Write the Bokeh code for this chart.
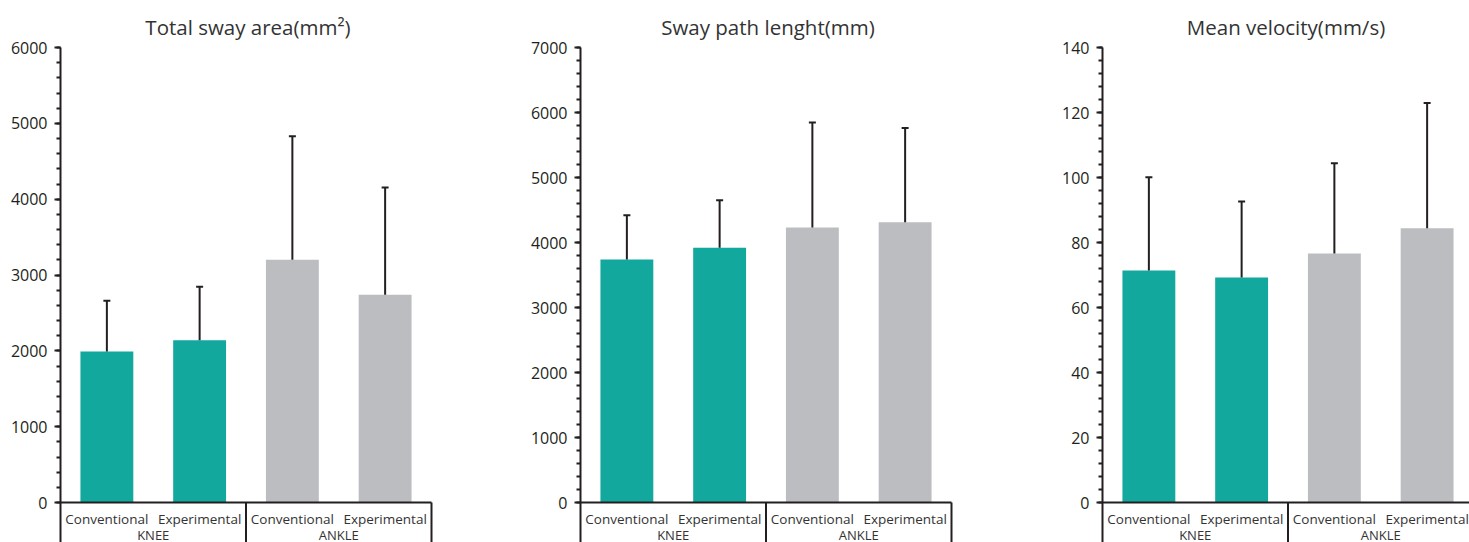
import numpy as np
from bokeh.plotting import figure
from bokeh.layouts import row
from bokeh.models import ColumnDataSource, FixedTicker, Range1d, Whisker, TeeHead
from bokeh.core.properties import value
from bokeh.embed import file_html
from bokeh.resources import INLINE

# ---- data -------------------------------------------------------------
groups = ["KNEE", "KNEE", "ANKLE", "ANKLE"]
conditions = ["Conventional", "Experimental", "Conventional", "Experimental"]

area_mean = [1990, 2140, 3200, 2740]
area_sd = [670, 705, 1630, 1415]

path_mean = [3740, 3920, 4230, 4310]
path_sd = [680, 730, 1615, 1450]

velocity_mean = [71.4, 69.2, 76.6, 84.4]
velocity_sd = [28.7, 23.4, 27.8, 38.5]

area_ticks = [0, 1000, 2000, 3000, 4000, 5000, 6000]
path_ticks = [0, 1000, 2000, 3000, 4000, 5000, 6000, 7000]
velocity_ticks = [0, 20, 40, 60, 80, 100, 120, 140]

titles = ["Total sway area(mm\u00b2)", "Sway path lenght(mm)", "Mean velocity(mm/s)"]

# ---- styling ----------------------------------------------------------
group_colors = {"KNEE": "#12a89d", "ANKLE": "#bcbdc1"}
INK = "#231f20"
TEXT = "#333333"
FONT = "Open Sans"

FRAME_TOP = 47          # px above the plotting frame (title band)
PLOT_H = 455            # px from value 0 up to the top tick
BELOW_H = 40            # px of category band under the zero line
PX_PER_CAT = 92.75      # px width of one category slot


def panel(title, means, sds, ticks, fig_width, left, right):
    n = len(means)
    ymax = ticks[-1]
    unit = ymax / PLOT_H                      # data units per pixel
    frame_w = fig_width - left - right
    x_end = frame_w / PX_PER_CAT

    p = figure(
        width=fig_width, height=FRAME_TOP + PLOT_H + BELOW_H,
        x_range=Range1d(0, x_end),
        y_range=Range1d(-BELOW_H * unit, ymax),
        x_axis_location=None,
        toolbar_location=None, output_backend="svg",
        min_border_left=left, min_border_right=right,
        min_border_top=FRAME_TOP, min_border_bottom=0,
        outline_line_color=None, background_fill_color="white",
        border_fill_color="white",
    )
    p.xgrid.visible = False
    p.ygrid.visible = False

    p.title.text = title
    p.title.align = "center"
    p.title.text_font = FONT
    p.title.text_font_size = "20.5px"
    p.title.text_font_style = "normal"
    p.title.text_color = TEXT
    p.title.standoff = 13

    step = ticks[1] - ticks[0]
    minor = list(np.arange(0, ymax + step / 10, step / 5))
    ax = p.yaxis[0]
    ax.ticker = FixedTicker(ticks=ticks, minor_ticks=minor)
    ax.axis_line_color = INK
    ax.axis_line_width = 2
    ax.major_tick_line_color = INK
    ax.major_tick_line_width = 2
    ax.major_tick_in = 0
    ax.major_tick_out = 6
    ax.minor_tick_line_color = INK
    ax.minor_tick_line_width = 2
    ax.minor_tick_in = 0
    ax.minor_tick_out = 4
    ax.major_label_text_font = FONT
    ax.major_label_text_font_size = "16px"
    ax.major_label_text_color = INK
    ax.major_label_standoff = 7

    xs = [i + 0.5 for i in range(n)]
    upper = [m + s for m, s in zip(means, sds)]
    src = ColumnDataSource(dict(
        x=xs, mean=means, upper=upper,
        color=[group_colors[g] for g in groups],
        cond=conditions,
    ))
    p.vbar(x="x", top="mean", bottom=0, width=0.57, source=src,
           fill_color="color", line_color=None)

    p.add_layout(Whisker(
        source=src, base="x", lower="mean", upper="upper",
        dimension="height", line_color=INK, line_width=2,
        upper_head=TeeHead(size=7, line_color=INK, line_width=2),
        lower_head=None, level="glyph",
    ))

    # zero line and group dividers running down through the category band
    p.segment(x0=[0], y0=[0], x1=[n], y1=[0], line_color=INK, line_width=2)
    bounds, centers, names = [], [], []
    start = 0
    for i in range(1, n + 1):
        if i == n or groups[i] != groups[start]:
            bounds.append(i)
            centers.append((start + i) / 2)
            names.append(groups[start])
            start = i
    p.segment(x0=bounds, y0=[0] * len(bounds), x1=bounds,
              y1=[-BELOW_H * unit] * len(bounds), line_color=INK, line_width=2)

    p.text(x="x", y=-16.5 * unit, text="cond", source=src,
           text_font=value(FONT), text_font_size="13.5px", text_color=TEXT,
           text_align="center", text_baseline="middle")
    p.text(x=centers, y=[-32 * unit] * len(centers), text=names,
           text_font=value(FONT), text_font_size="13px", text_color=TEXT,
           text_align="center", text_baseline="middle")
    return p


p1 = panel(titles[0], area_mean, area_sd, area_ticks, 500, 60, 65)
p2 = panel(titles[1], path_mean, path_sd, path_ticks, 500, 80, 45)
p3 = panel(titles[2], velocity_mean, velocity_sd, velocity_ticks, 469, 102, 0)

layout = row(p1, p2, p3, spacing=0)

open("out.html", "w").write(file_html(layout, INLINE))
